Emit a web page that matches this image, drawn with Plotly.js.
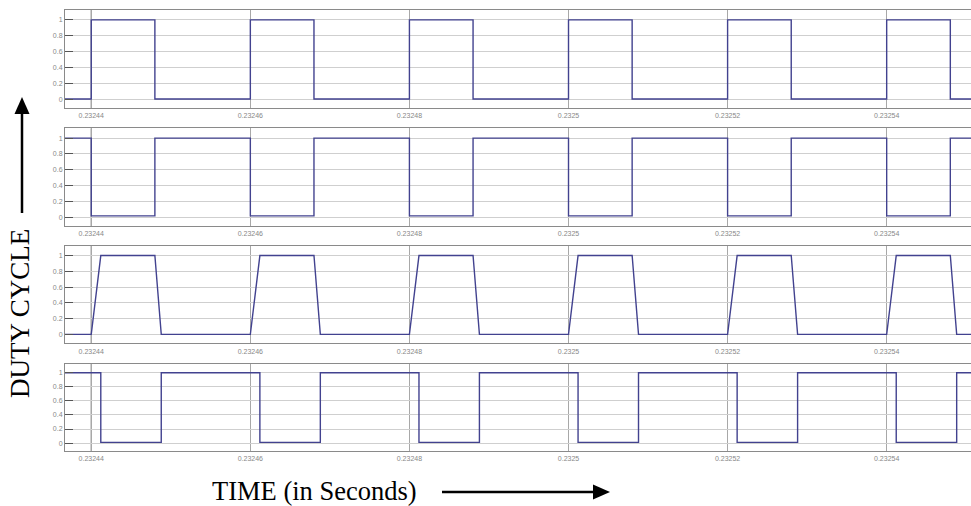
<!DOCTYPE html>
<html>
<head>
<meta charset="utf-8">
<script src="https://cdn.plot.ly/plotly-3.0.1.min.js"></script>
<style>html,body{margin:0;padding:0;background:#fff;}#chart{width:971px;height:506px;}</style>
</head>
<body>
<div id="chart"></div>
<script>
// ---- data ----
var tickVals = [0.23244, 0.23246, 0.23248, 0.23250, 0.23252, 0.23254];
var tickText = ["0.23244", "0.23246", "0.23248", "0.2325", "0.23252", "0.23254"];
var yTickVals = [0, 0.2, 0.4, 0.6, 0.8, 1];
var yTickText = ["0", "0.2", "0.4", "0.6", "0.8", "1"];
var xStart = 0.2324367, xEnd = 0.2325506;

// panel 1: step signal (hv)
var t1 = [xStart, 0.23244, 0.232448, 0.23246, 0.232468, 0.23248, 0.232488, 0.23250, 0.232508, 0.23252, 0.232528, 0.23254, 0.232548, xEnd];
var v1 = [0, 1, 0, 1, 0, 1, 0, 1, 0, 1, 0, 1, 0, 0];
// panel 2: complementary step signal (hv)
var t2 = [xStart, 0.23244, 0.232448, 0.23246, 0.232468, 0.23248, 0.232488, 0.23250, 0.232508, 0.23252, 0.232528, 0.23254, 0.232548, xEnd];
var v2 = [1, 0.015, 1, 0.015, 1, 0.015, 1, 0.015, 1, 0.015, 1, 0.015, 1, 1];
// panel 3: trapezoid (linear)
var t3 = [xStart, 0.23244, 0.2324412, 0.232448, 0.2324488,
          0.23246, 0.2324612, 0.232468, 0.2324688,
          0.23248, 0.2324812, 0.232488, 0.2324888,
          0.23250, 0.2325012, 0.232508, 0.2325088,
          0.23252, 0.2325212, 0.232528, 0.2325288,
          0.23254, 0.2325412, 0.232548, 0.2325488, xEnd];
var v3 = [0, 0, 1, 1, 0,
          0, 1, 1, 0,
          0, 1, 1, 0,
          0, 1, 1, 0,
          0, 1, 1, 0,
          0, 1, 1, 0, 0];
// panel 4: delayed complementary step (hv)
var t4 = [xStart, 0.2324412, 0.2324488, 0.2324612, 0.2324688, 0.2324812, 0.2324888, 0.2325012, 0.2325088, 0.2325212, 0.2325288, 0.2325412, 0.2325488, xEnd];
var v4 = [1, 0.01, 1, 0.01, 1, 0.01, 1, 0.01, 1, 0.01, 1, 0.01, 1, 1];

// ---- layout helpers ----
var W = 971, H = 506;
function px(x){ return x / W; }
function py(y){ return 1 - y / H; }
var lineColor = '#42428f';
var panels = [[10, 108], [128.3, 226], [245.7, 343.3], [364, 451]];
var series = [[t1, v1, 'hv'], [t2, v2, 'hv'], [t3, v3, 'linear'], [t4, v4, 'hv']];

var data = [];
var layout = {
  width: W, height: H,
  margin: {l: 0, r: 0, t: 0, b: 0},
  paper_bgcolor: '#fff', plot_bgcolor: '#fff',
  showlegend: false,
  shapes: [], annotations: []
};

series.forEach(function(s, i){
  var n = i === 0 ? '' : String(i + 1);
  data.push({x: s[0], y: s[1], xaxis: 'x' + n, yaxis: 'y' + n, type: 'scatter', mode: 'lines',
             line: {color: lineColor, width: 1.4, shape: s[2]}, hoverinfo: 'skip'});
  layout['xaxis' + n] = {
    domain: [px(65), 1], range: [xStart, xEnd], anchor: 'y' + n,
    tickmode: 'array', tickvals: tickVals, ticktext: tickText,
    showgrid: true, gridcolor: '#a8a8a8', gridwidth: 1, zeroline: false,
    showline: true, linecolor: '#8a8a8a', linewidth: 1, mirror: true,
    ticks: '', tickfont: {family: 'Liberation Sans, Arial', size: 7, color: '#888'}, ticklabelstandoff: 1
  };
  layout['yaxis' + n] = {
    domain: [py(panels[i][1]), py(panels[i][0])], range: [-0.113, 1.125], anchor: 'x' + n,
    tickmode: 'array', tickvals: yTickVals, ticktext: yTickText,
    showgrid: true, gridcolor: '#cfcfcf', gridwidth: 1, zeroline: false,
    showline: true, linecolor: '#8a8a8a', linewidth: 1, mirror: true,
    ticks: 'inside', ticklen: 8, tickcolor: '#555', tickwidth: 1,
    tickfont: {family: 'Liberation Sans, Arial', size: 7, color: '#888'}
  };
  // darker first-tick vertical line
  layout.shapes.push({type: 'line', xref: 'x' + n, yref: 'y' + n + ' domain', x0: tickVals[0], x1: tickVals[0], y0: 0, y1: 1,
                      line: {color: '#444', width: 1}, layer: 'below'});
});

// axis titles
layout.annotations.push({text: 'DUTY CYCLE', xref: 'paper', yref: 'paper', x: px(20), y: py(314), showarrow: false,
  textangle: -90, font: {family: 'Liberation Serif, Times New Roman', size: 27, color: '#000'}, xanchor: 'center', yanchor: 'middle'});
layout.annotations.push({text: 'TIME (in Seconds)', xref: 'paper', yref: 'paper', x: px(314), y: py(491), showarrow: false,
  font: {family: 'Liberation Serif, Times New Roman', size: 26.5, color: '#000'}, xanchor: 'center', yanchor: 'middle'});

// arrows
layout.shapes.push({type: 'line', xref: 'paper', yref: 'paper', x0: px(22), x1: px(22), y0: py(112), y1: py(213), line: {color: '#000', width: 2.5}});
layout.shapes.push({type: 'path', xref: 'paper', yref: 'paper',
  path: 'M' + px(22) + ',' + py(97) + ' L' + px(14.5) + ',' + py(114) + ' L' + px(29.5) + ',' + py(114) + ' Z',
  fillcolor: '#000', line: {color: '#000', width: 0}});
layout.shapes.push({type: 'line', xref: 'paper', yref: 'paper', x0: px(442), x1: px(596), y0: py(492), y1: py(492), line: {color: '#000', width: 2.5}});
layout.shapes.push({type: 'path', xref: 'paper', yref: 'paper',
  path: 'M' + px(610) + ',' + py(492) + ' L' + px(593) + ',' + py(484.5) + ' L' + px(593) + ',' + py(499.5) + ' Z',
  fillcolor: '#000', line: {color: '#000', width: 0}});

Plotly.newPlot('chart', data, layout, {staticPlot: true, displayModeBar: false});
</script>
</body>
</html>
